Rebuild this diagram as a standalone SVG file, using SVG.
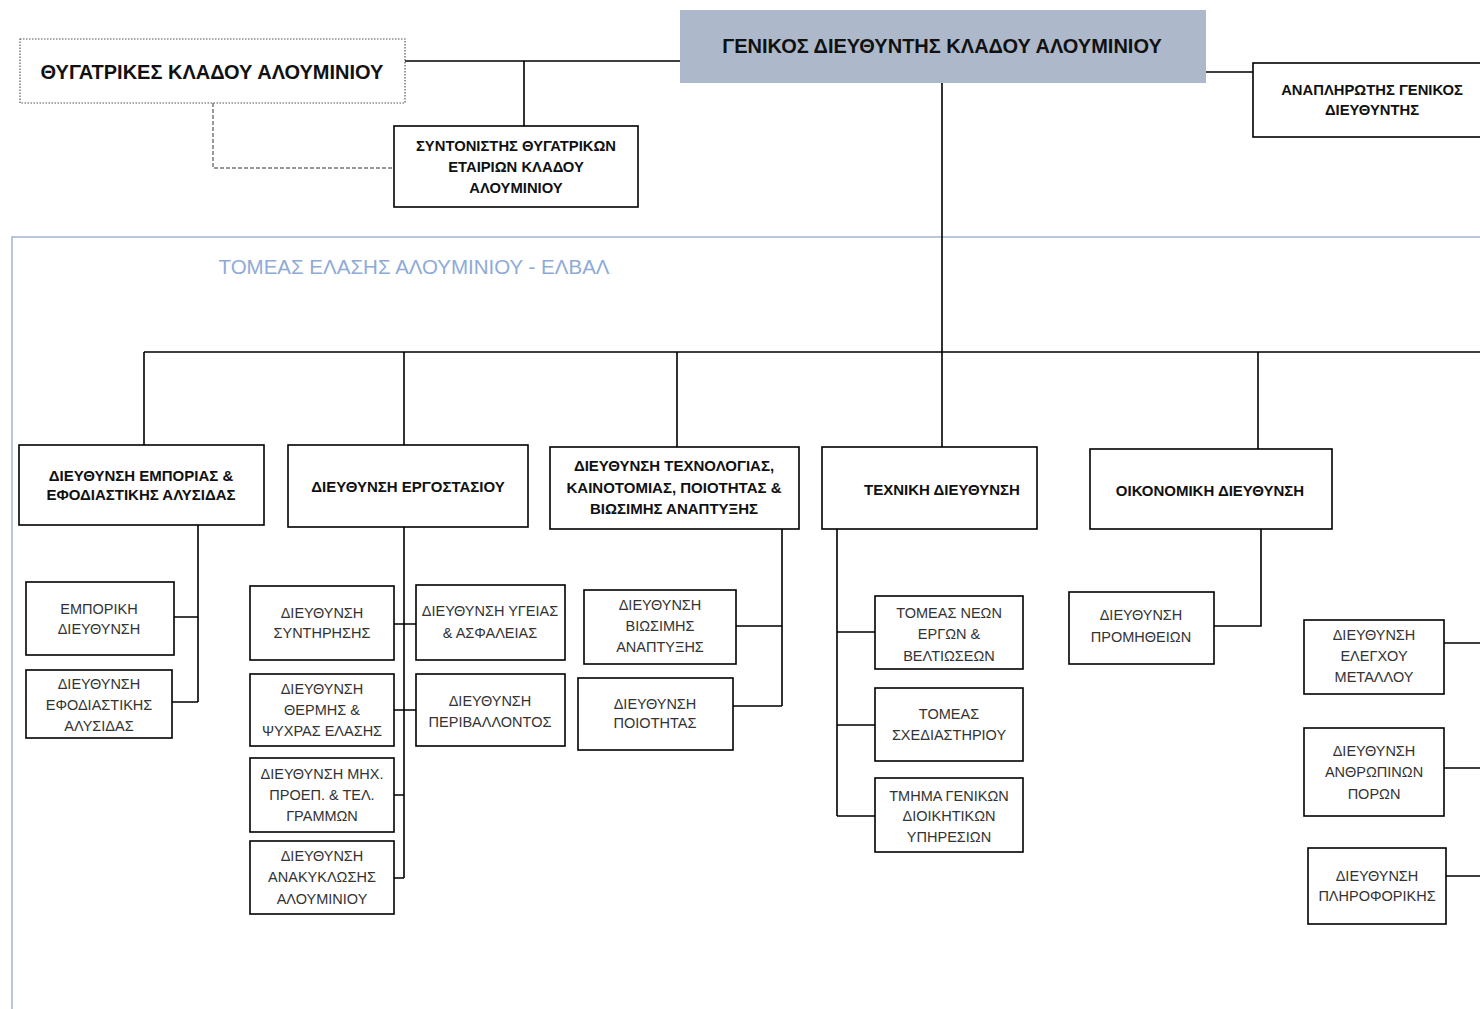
<svg xmlns="http://www.w3.org/2000/svg" width="1480" height="1009" viewBox="0 0 1480 1009">
<style>
.bx{fill:#fff;stroke:#000;stroke-width:1.6}
.tb{font-family:"Liberation Sans",Arial,sans-serif;font-weight:bold;font-size:15px;fill:#111;text-anchor:middle}
.ts{font-family:"Liberation Sans",Arial,sans-serif;font-weight:bold;font-size:14.8px;fill:#111;text-anchor:middle}
.tt{font-family:"Liberation Sans",Arial,sans-serif;font-weight:bold;font-size:20px;fill:#111;text-anchor:middle}
.tr{font-family:"Liberation Sans",Arial,sans-serif;font-size:14.5px;fill:#333;text-anchor:middle}
.ln{fill:none;stroke:#000;stroke-width:1.6}
</style>
<rect width="1480" height="1009" fill="#fff"/>
<rect id="container" x="12" y="237" width="1490" height="800" fill="none" stroke="#a7bad6" stroke-width="1.6"/>
<text x="414" y="274" font-family="'Liberation Sans',Arial,sans-serif" font-size="20.5" fill="#8eaad8" text-anchor="middle">ΤΟΜΕΑΣ ΕΛΑΣΗΣ ΑΛΟΥΜΙΝΙΟΥ - ΕΛΒΑΛ</text>

<g id="connectors">
<path class="ln" d="M405 61H680M524 61V126"/>
<path fill="none" stroke="#333" stroke-width="1" stroke-dasharray="4 2" d="M213 103V168H394"/>
<path class="ln" d="M1206 72H1253"/>
<path class="ln" d="M942 83V447M144 352H1480M144 352V445M404 352V445M677 352V447M1258 352V449"/>
<path class="ln" d="M198 525V702M174 617H198M172 702H198"/>
<path class="ln" d="M404 527V878M394 624H416M394 710H416M394 795H404M394 878H404"/>
<path class="ln" d="M782 529V706M736 626H782M733 706H782"/>
<path class="ln" d="M837 529V816M837 632H875M837 725H875M837 816H875"/>
<path class="ln" d="M1261 529V626H1214"/>
<path class="ln" d="M1444 643H1480M1444 768H1480M1446 876H1480"/>
</g>

<g id="thygatrikes">
<rect x="20" y="39" width="385" height="64" fill="#fff" stroke="#555" stroke-width="1.2" stroke-dasharray="1.5 1.5"/>
<text class="tt" x="212" y="79">ΘΥΓΑΤΡΙΚΕΣ ΚΛΑΔΟΥ ΑΛΟΥΜΙΝΙΟΥ</text>
</g>
<g id="syntonistis">
<rect class="bx" x="394" y="126" width="244" height="81"/>
<text class="ts" x="516" y="151">ΣΥΝΤΟΝΙΣΤΗΣ ΘΥΓΑΤΡΙΚΩΝ</text>
<text class="ts" x="516" y="172">ΕΤΑΙΡΙΩΝ  ΚΛΑΔΟΥ</text>
<text class="ts" x="516" y="193">ΑΛΟΥΜΙΝΙΟΥ</text>
</g>
<g id="genikos">
<rect x="680" y="10" width="526" height="73" fill="#adb9ca"/>
<text class="tt" x="942" y="53">ΓΕΝΙΚΟΣ ΔΙΕΥΘΥΝΤΗΣ ΚΛΑΔΟΥ ΑΛΟΥΜΙΝΙΟΥ</text>
</g>
<g id="anaplirotis">
<rect class="bx" x="1253" y="63" width="240" height="74"/>
<text class="ts" x="1372" y="95">ΑΝΑΠΛΗΡΩΤΗΣ ΓΕΝΙΚΟΣ</text>
<text class="ts" x="1372" y="115">ΔΙΕΥΘΥΝΤΗΣ</text>
</g>

<g id="emporias">
<rect class="bx" x="19" y="445" width="245" height="80"/>
<text class="tb" x="141" y="481">ΔΙΕΥΘΥΝΣΗ ΕΜΠΟΡΙΑΣ &amp;</text>
<text class="tb" x="141" y="500">ΕΦΟΔΙΑΣΤΙΚΗΣ ΑΛΥΣΙΔΑΣ</text>
</g>
<g id="ergostasiou">
<rect class="bx" x="288" y="445" width="240" height="82"/>
<text class="tb" x="408" y="492">ΔΙΕΥΘΥΝΣΗ ΕΡΓΟΣΤΑΣΙΟΥ</text>
</g>
<g id="technologias">
<rect class="bx" x="550" y="447" width="249" height="82"/>
<text class="tb" x="674" y="471">ΔΙΕΥΘΥΝΣΗ ΤΕΧΝΟΛΟΓΙΑΣ,</text>
<text class="tb" x="674" y="493">ΚΑΙΝΟΤΟΜΙΑΣ, ΠΟΙΟΤΗΤΑΣ  &amp;</text>
<text class="tb" x="674" y="514">ΒΙΩΣΙΜΗΣ ΑΝΑΠΤΥΞΗΣ</text>
</g>
<g id="techniki">
<rect class="bx" x="822" y="447" width="215" height="82"/>
<text class="tb" x="942" y="495">ΤΕΧΝΙΚΗ ΔΙΕΥΘΥΝΣΗ</text>
</g>
<g id="oikonomiki">
<rect class="bx" x="1090" y="449" width="242" height="80"/>
<text class="tb" x="1210" y="496">ΟΙΚΟΝΟΜΙΚΗ ΔΙΕΥΘΥΝΣΗ</text>
</g>

<g id="emporiki">
<rect class="bx" x="26" y="582" width="148" height="73"/>
<text class="tr" x="99" y="614">ΕΜΠΟΡΙΚΗ</text>
<text class="tr" x="99" y="634">ΔΙΕΥΘΥΝΣΗ</text>
</g>
<g id="efodiastikis">
<rect class="bx" x="26" y="670" width="146" height="68"/>
<text class="tr" x="99" y="689">ΔΙΕΥΘΥΝΣΗ</text>
<text class="tr" x="99" y="710">ΕΦΟΔΙΑΣΤΙΚΗΣ</text>
<text class="tr" x="99" y="731">ΑΛΥΣΙΔΑΣ</text>
</g>
<g id="syntirisis">
<rect class="bx" x="250" y="586" width="144" height="74"/>
<text class="tr" x="322" y="618">ΔΙΕΥΘΥΝΣΗ</text>
<text class="tr" x="322" y="638">ΣΥΝΤΗΡΗΣΗΣ</text>
</g>
<g id="ygeias">
<rect class="bx" x="416" y="585" width="149" height="75"/>
<text class="tr" x="490" y="616">ΔΙΕΥΘΥΝΣΗ ΥΓΕΙΑΣ</text>
<text class="tr" x="490" y="638">&amp; ΑΣΦΑΛΕΙΑΣ</text>
</g>
<g id="thermis">
<rect class="bx" x="250" y="674" width="144" height="72"/>
<text class="tr" x="322" y="694">ΔΙΕΥΘΥΝΣΗ</text>
<text class="tr" x="322" y="715">ΘΕΡΜΗΣ &amp;</text>
<text class="tr" x="322" y="736">ΨΥΧΡΑΣ ΕΛΑΣΗΣ</text>
</g>
<g id="perivallontos">
<rect class="bx" x="416" y="674" width="149" height="72"/>
<text class="tr" x="490" y="706">ΔΙΕΥΘΥΝΣΗ</text>
<text class="tr" x="490" y="727">ΠΕΡΙΒΑΛΛΟΝΤΟΣ</text>
</g>
<g id="mich">
<rect class="bx" x="250" y="758" width="144" height="74"/>
<text class="tr" x="322" y="779">ΔΙΕΥΘΥΝΣΗ ΜΗΧ.</text>
<text class="tr" x="322" y="800">ΠΡΟΕΠ. &amp; ΤΕΛ.</text>
<text class="tr" x="322" y="821">ΓΡΑΜΜΩΝ</text>
</g>
<g id="anakyklosis">
<rect class="bx" x="250" y="841" width="144" height="73"/>
<text class="tr" x="322" y="861">ΔΙΕΥΘΥΝΣΗ</text>
<text class="tr" x="322" y="882">ΑΝΑΚΥΚΛΩΣΗΣ</text>
<text class="tr" x="322" y="904">ΑΛΟΥΜΙΝΙΟΥ</text>
</g>
<g id="viosimis">
<rect class="bx" x="584" y="590" width="152" height="74"/>
<text class="tr" x="660" y="610">ΔΙΕΥΘΥΝΣΗ</text>
<text class="tr" x="660" y="631">ΒΙΩΣΙΜΗΣ</text>
<text class="tr" x="660" y="652">ΑΝΑΠΤΥΞΗΣ</text>
</g>
<g id="poiotitas">
<rect class="bx" x="578" y="678" width="155" height="72"/>
<text class="tr" x="655" y="709">ΔΙΕΥΘΥΝΣΗ</text>
<text class="tr" x="655" y="728">ΠΟΙΟΤΗΤΑΣ</text>
</g>
<g id="neon-ergon">
<rect class="bx" x="875" y="596" width="148" height="73"/>
<text class="tr" x="949" y="618">ΤΟΜΕΑΣ ΝΕΩΝ</text>
<text class="tr" x="949" y="639">ΕΡΓΩΝ &amp;</text>
<text class="tr" x="949" y="661">ΒΕΛΤΙΩΣΕΩΝ</text>
</g>
<g id="schediastiriou">
<rect class="bx" x="875" y="688" width="148" height="73"/>
<text class="tr" x="949" y="719">ΤΟΜΕΑΣ</text>
<text class="tr" x="949" y="740">ΣΧΕΔΙΑΣΤΗΡΙΟΥ</text>
</g>
<g id="tmima">
<rect class="bx" x="875" y="778" width="148" height="74"/>
<text class="tr" x="949" y="801">ΤΜΗΜΑ ΓΕΝΙΚΩΝ</text>
<text class="tr" x="949" y="821">ΔΙΟΙΚΗΤΙΚΩΝ</text>
<text class="tr" x="949" y="842">ΥΠΗΡΕΣΙΩΝ</text>
</g>
<g id="promitheion">
<rect class="bx" x="1069" y="592" width="145" height="72"/>
<text class="tr" x="1141" y="620">ΔΙΕΥΘΥΝΣΗ</text>
<text class="tr" x="1141" y="642">ΠΡΟΜΗΘΕΙΩΝ</text>
</g>
<g id="elegchou">
<rect class="bx" x="1304" y="620" width="140" height="74"/>
<text class="tr" x="1374" y="640">ΔΙΕΥΘΥΝΣΗ</text>
<text class="tr" x="1374" y="661">ΕΛΕΓΧΟΥ</text>
<text class="tr" x="1374" y="682">ΜΕΤΑΛΛΟΥ</text>
</g>
<g id="anthropinon">
<rect class="bx" x="1304" y="728" width="140" height="88"/>
<text class="tr" x="1374" y="756">ΔΙΕΥΘΥΝΣΗ</text>
<text class="tr" x="1374" y="777">ΑΝΘΡΩΠΙΝΩΝ</text>
<text class="tr" x="1374" y="799">ΠΟΡΩΝ</text>
</g>
<g id="pliroforikis">
<rect class="bx" x="1308" y="848" width="138" height="76"/>
<text class="tr" x="1377" y="881">ΔΙΕΥΘΥΝΣΗ</text>
<text class="tr" x="1377" y="901">ΠΛΗΡΟΦΟΡΙΚΗΣ</text>
</g>
</svg>
